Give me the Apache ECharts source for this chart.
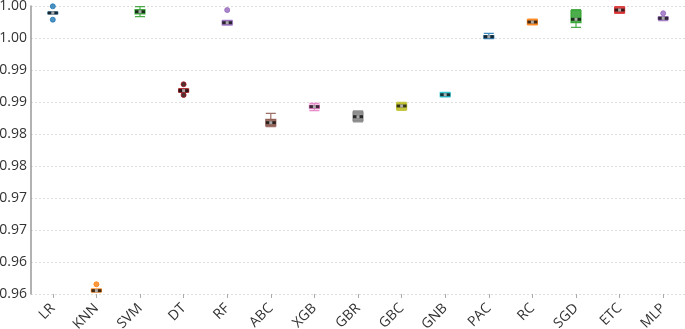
<!DOCTYPE html>
<html><head><meta charset="utf-8">
<script src="https://cdn.jsdelivr.net/npm/echarts@6/dist/echarts.min.js"></script>
<style>html,body{margin:0;padding:0;background:#fff}#c{width:685px;height:329px}</style>
</head><body><div id="c"></div>
<script>
const categories = ['LR','KNN','SVM','DT','RF','ABC','XGB','GBR','GBC','GNB','PAC','RC','SGD','ETC','MLP'];
const colors = ['#1f77b4','#ff7f0e','#2ca02c','#a50f15','#9467bd','#8c564b','#e377c2','#7f7f7f','#bcbd22','#17becf','#1f77b4','#ff7f0e','#2ca02c','#d62728','#9467bd'];
// [whiskerLow, Q1, median, Q3, whiskerHigh]
const boxValues = [
  [1.00375,1.00380,1.00391,1.00402,1.00408],
  [0.96030,0.96035,0.96052,0.96075,0.96080],
  [1.00333,1.00375,1.00411,1.00445,1.00489],
  [0.99150,0.99156,0.99177,0.99203,0.99210],
  [1.00200,1.00203,1.00239,1.00273,1.00276],
  [0.98615,0.98625,0.98677,0.98730,0.98823],
  [0.98864,0.98898,0.98927,0.98953,0.98980],
  [0.98690,0.98703,0.98770,0.98848,0.98860],
  [0.98870,0.98886,0.98938,0.98980,0.98995],
  [0.99080,0.99083,0.99114,0.99145,0.99150],
  [0.99990,0.99995,1.00020,1.00039,1.00073],
  [1.00205,1.00211,1.00250,1.00289,1.00295],
  [1.00167,1.00239,1.00292,1.00430,1.00445],
  [1.00386,1.00392,1.00437,1.00482,1.00489],
  [1.00270,1.00289,1.00308,1.00328,1.00336]
];
// outliers: [categoryIndex, value]
const outliers = [
  [0,1.00495],[0,1.00286],
  [1,0.96152],
  [3,0.99277],[3,0.99109],
  [4,1.00437],
  [14,1.00386]
];
const tickLabels = ['0.96','0.96','0.97','0.97','0.98','0.98','0.99','0.99','1.00','1.00'];

const chart = echarts.init(document.getElementById('c'));
chart.setOption({
  animation:false,
  grid:{left:31,right:0,top:6,bottom:35,containLabel:false,outerBoundsMode:'none'},
  xAxis:{type:'category',data:categories,
    axisLine:{show:false},
    axisTick:{show:true,alignWithLabel:true,length:4,lineStyle:{color:'#aaa'}},
    axisLabel:{rotate:45,fontSize:14,color:'#333',fontFamily:'Open Sans',margin:12},
    splitLine:{show:false}},
  yAxis:{type:'value',min:0.96,max:1.005,interval:0.005,
    axisLine:{show:true,lineStyle:{color:'#999',width:1.5}},
    axisTick:{show:false},
    axisLabel:{fontSize:14,color:'#333',fontFamily:'Open Sans',margin:4,
      formatter:(v)=>tickLabels[Math.round((v-0.96)/0.005)] || ''},
    splitLine:{show:true,lineStyle:{color:'#ddd',type:[2,2]}}},
  series:[
    {type:'boxplot',boxWidth:[10,10],
     data:boxValues.map((b,i)=>({value:b,itemStyle:{color:colors[i],borderColor:colors[i],borderWidth:1.2,opacity:0.85}}))},
    {type:'scatter',symbol:'rect',symbolSize:[10,3],z:5,
     data:boxValues.map((b,i)=>({value:[i,b[2]],itemStyle:{color:'#111'}}))},
    {type:'scatter',symbol:'rect',symbolSize:[3,3],z:6,
     data:boxValues.map((b,i)=>({value:[i,b[2]],itemStyle:{color:'#ccc'}}))},
    {type:'scatter',symbolSize:5,z:4,
     data:outliers.map(o=>({value:o,itemStyle:{color:o[0]===3?'#200':colors[o[0]],borderColor:colors[o[0]],borderWidth:1}}))}
  ]
});
</script></body></html>
